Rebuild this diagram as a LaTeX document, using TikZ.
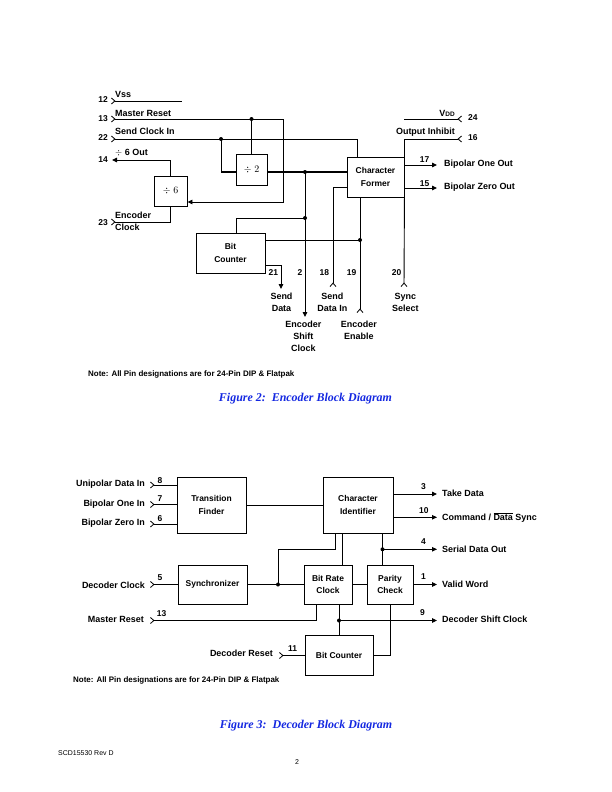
\documentclass[tikz,border=0pt]{standalone}
\usepackage{fontspec}
\setmainfont{Liberation Sans}
\newfontfamily\capfont{Liberation Serif}
\usetikzlibrary{arrows.meta,positioning,calc}
\definecolor{capblue}{RGB}{20,40,225}
\newcommand{\lblfont}{\fontsize{9}{12}\selectfont\bfseries}
\newcommand{\boxfont}{\fontsize{8.5}{12.5}\selectfont\bfseries}
\newcommand{\pinfont}{\fontsize{8.5}{10}\selectfont\bfseries}

\tikzset{
  blk/.style={draw, line width=0.9bp, inner sep=0pt, align=center, font=\boxfont},
  wire/.style={line width=0.9bp},
  bus/.style={line width=2.2bp},
  jdot/.style={circle, fill, inner sep=0pt, minimum size=4bp},
  lbl/.style={inner sep=0pt, font=\lblfont},
  pinno/.style={inner sep=0pt, font=\pinfont},
  chev/.style={{Straight Barb[reversed,length=3.5bp,width=6bp,line width=0.8bp]}-},
  chevend/.style={-{Straight Barb[reversed,length=3.5bp,width=6bp,line width=0.8bp]}},
  outarr/.style={-{Triangle[length=5bp,width=4.5bp]}},
  chevarr/.style={{Straight Barb[reversed,length=3.5bp,width=6bp,line width=0.8bp]}-{Triangle[length=5bp,width=4.5bp]}},
}

\begin{document}
\begin{tikzpicture}[x=1bp,y=-1bp]
  \useasboundingbox (0,0) rectangle (612,792);

  % ---------- Figure 2: encoder ----------
  \node[blk, minimum width=31bp, minimum height=31bp, font=\fontsize{10}{12}\selectfont] (div2) at (251.5,169.5) {$\div\;2$};
  \node[blk, minimum width=33bp, minimum height=30bp, font=\fontsize{10}{12}\selectfont] (div6) at (170.5,191) {$\div\;6$};
  \node[blk, minimum width=57bp, minimum height=40bp] (cf) at (375.5,177) {Character\\Former};
  \node[blk, minimum width=69bp, minimum height=40bp] (bc) at (230.5,253) {Bit\\Counter};

  % left side pins
  \coordinate (p12) at (111,101);
  \coordinate (p12e) at (182,101);
  \draw[wire,chev] (p12) -- (p12e);
  \node[pinno, anchor=east] (n12) at (108,100) {12};
  \node[lbl, anchor=west] (t12) at (115,94) {Vss};

  \coordinate (p13) at (111,119);
  \coordinate (mrTurn) at (283,119);
  \coordinate (mrDown) at (283,202);
  \draw[wire,chevarr] (p13) -- (mrTurn) -- (mrDown) -- (div6.east |- mrDown);
  \node[jdot] (mrJ) at (251.5,119) {};
  \draw[wire] (mrJ.center) -- (div2.north);
  \node[pinno, anchor=east] (n13) at (108,118.5) {13};
  \node[lbl, anchor=west] (t13) at (115,113) {Master Reset};

  \coordinate (p22) at (111,139);
  \coordinate (scTurn) at (357,139);
  \draw[wire,chev] (p22) -- (scTurn) -- (scTurn |- cf.north);
  \node[jdot] (scJ) at (221,139) {};
  \coordinate (busL) at (221,172);
  \draw[wire] (scJ.center) -- (busL);
  \draw[bus] (busL) -- (div2.west |- busL);
  \draw[bus] (div2.east |- busL) -- (cf.west |- busL);
  \node[pinno, anchor=east] (n22) at (108,138) {22};
  \node[lbl, anchor=west] (t22) at (115,131.5) {Send Clock In};

  \coordinate (p14) at (112,160);
  \coordinate (d6Up) at (170.5,160);
  \draw[wire,outarr] (div6.north) -- (d6Up) -- (p14);
  \node[pinno, anchor=east] (n14) at (108,160) {14};
  \node[lbl, anchor=west] (t14) at (115,153) {$\div$ 6 Out};

  \coordinate (p23) at (111,222);
  \draw[wire,chev] (p23) -- (p23 -| div6.south) -- (div6.south);
  \node[pinno, anchor=east] (n23) at (108,222.5) {23};
  \node[lbl, anchor=west, align=left] (t23) at (115,221.7) {Encoder\\Clock};

  % shift clock and bit counter
  \node[jdot] (busJ) at (305,172) {};
  \node[jdot] (bcJ) at (305,218) {};
  \coordinate (p2) at (305,317);
  \draw[wire,outarr] (busJ.center) -- (p2);
  \coordinate (bcTop) at (236,218);
  \draw[wire] (bcJ.center) -- (bcTop) -- (bcTop |- bc.north);

  \node[jdot] (enJ) at (360,240) {};
  \draw[wire] (bc.east |- enJ) -- (enJ.center);
  \coordinate (p19) at (360,313);
  \draw[wire,chevend] (cf.south -| enJ) -- (p19);

  \coordinate (sdTurn) at (281,265);
  \coordinate (p21) at (281,289);
  \draw[wire,outarr] (bc.east |- sdTurn) -- (sdTurn) -- (p21);

  \coordinate (sdiTurn) at (333,187);
  \coordinate (p18) at (333,287);
  \draw[wire,chevend] (cf.west |- sdiTurn) -- (sdiTurn) -- (p18);

  \coordinate (p20) at (404,287);
  \draw[wire,chevend] (cf.south east) -- (p20);

  % right side pins
  \coordinate (p16) at (462,139);
  \draw[wire,chevend] (cf.north east) -- (cf.north east |- p16) -- (p16);
  \node[pinno, anchor=west] (n16) at (468,138) {16};
  \node[lbl, anchor=east] (t16) at (455,132) {Output Inhibit};

  \coordinate (vddL) at (404,119);
  \coordinate (p24) at (462,119);
  \draw[wire,chevend] (vddL) -- (p24);
  \node[pinno, anchor=west] (n24) at (468,118) {24};
  \node[lbl, anchor=east] (t24) at (455,113) {V{\fontsize{6.5}{7}\selectfont DD}};

  \coordinate (p17) at (437,165);
  \draw[wire,outarr] (cf.east |- p17) -- (p17);
  \node[pinno] (n17) at (424.5,159.7) {17};
  \node[lbl, anchor=west] (t17) at (444,164.3) {Bipolar One Out};

  \coordinate (p15) at (437,188);
  \draw[wire,outarr] (cf.east |- p15) -- (p15);
  \node[pinno] (n15) at (424.5,184) {15};
  \node[lbl, anchor=west] (t15) at (444,187.5) {Bipolar Zero Out};

  % bottom pins
  \node[pinno] (n21) at (273.3,273) {21};
  \node[pinno] (n2) at (300,273) {2};
  \node[pinno] (n18) at (324.3,273) {18};
  \node[pinno] (n19) at (351.7,273) {19};
  \node[pinno] (n20) at (396.7,273) {20};
  \node[lbl, align=center] (t21) at (281.5,302.5) {Send\\Data};
  \node[lbl, align=center] (t2) at (303.3,336.3) {Encoder\\Shift\\Clock};
  \node[lbl, align=center] (t18) at (332.3,302.5) {Send\\Data In};
  \node[lbl, align=center] (t19) at (358.8,330.3) {Encoder\\Enable};
  \node[lbl, align=center] (t20) at (405.3,302.5) {Sync\\Select};

  \node[inner sep=0pt, anchor=west, font=\fontsize{8}{10}\selectfont\bfseries] (note2) at (88,374)
    {Note: All Pin designations are for 24-Pin DIP \& Flatpak};
  \node[inner sep=0pt, text=capblue, font=\capfont\fontsize{12}{14}\selectfont\bfseries\itshape] (cap2) at (305.5,399)
    {Figure 2:\ \ Encoder Block Diagram};

  % ---------- Figure 3: decoder ----------
  \node[blk, minimum width=69bp, minimum height=56bp] (tf) at (211.5,505) {Transition\\Finder};
  \node[blk, minimum width=70bp, minimum height=56bp] (ci) at (358,505) {Character\\Identifier};
  \node[blk, minimum width=69bp, minimum height=39bp] (sy) at (212.5,584.5) {Synchronizer};
  \node[blk, minimum width=48bp, minimum height=39bp] (brc) at (328,584.5) {Bit Rate\\Clock};
  \node[blk, minimum width=46bp, minimum height=39bp] (pc) at (390,584.5) {Parity\\Check};
  \node[blk, minimum width=68bp, minimum height=40bp] (bcd) at (339,655.5) {Bit Counter};

  \draw[wire] (tf.east) -- (ci.west);

  % inputs
  \coordinate (p8) at (150,485);
  \draw[wire,chev] (p8) -- (p8 -| tf.west);
  \node[lbl, anchor=east] (t8) at (145,484.5) {Unipolar Data In};
  \node[pinno] (n8) at (160,480.5) {8};
  \coordinate (p7) at (150,504.5);
  \draw[wire,chev] (p7) -- (p7 -| tf.west);
  \node[lbl, anchor=east] (t7) at (145,504.5) {Bipolar One In};
  \node[pinno] (n7) at (160,499) {7};
  \coordinate (p6) at (150,524);
  \draw[wire,chev] (p6) -- (p6 -| tf.west);
  \node[lbl, anchor=east] (t6) at (145,523.5) {Bipolar Zero In};
  \node[pinno] (n6) at (160,518.5) {6};

  \coordinate (p5) at (150,584.5);
  \draw[wire,chev] (p5) -- (sy.west);
  \node[lbl, anchor=east] (t5) at (145,585) {Decoder Clock};
  \node[pinno] (n5) at (160,577.5) {5};

  \draw[wire] (sy.east) -- (brc.west);
  \node[jdot] (syJ) at (278,584.5) {};
  \coordinate (syUp) at (278,549.3);
  \coordinate (syR) at (335,549.3);
  \draw[wire] (syJ.center) -- (syUp) -- (syR) -- (syR |- ci.south);
  \coordinate (brcUp) at (342,549.3);
  \draw[wire] (brcUp |- brc.north) -- (brcUp |- ci.south);

  \node[jdot] (pcJ) at (382.5,549.3) {};
  \draw[wire] (ci.south -| pcJ) -- (pc.north -| pcJ);
  \draw[wire] (brc.east) -- (pc.west);

  % outputs
  \coordinate (p3) at (437,494);
  \draw[wire,outarr] (ci.east |- p3) -- (p3);
  \node[pinno] (n3) at (423.5,486.7) {3};
  \node[lbl, anchor=west] (t3) at (442,493.7) {Take Data};
  \coordinate (p10) at (437,517.3);
  \draw[wire,outarr] (ci.east |- p10) -- (p10);
  \node[pinno] (n10) at (423.8,510.5) {10};
  \node[lbl, anchor=west] (t10) at (442,517.5) {Command / $\overline{\hbox{Data}}$ Sync};
  \coordinate (p4) at (437,549.3);
  \draw[wire,outarr] (pcJ.center) -- (p4);
  \node[pinno] (n4) at (423.5,541.5) {4};
  \node[lbl, anchor=west] (t4) at (442,549) {Serial Data Out};
  \coordinate (p1) at (437,584.5);
  \draw[wire,outarr] (pc.east) -- (p1);
  \node[pinno] (n1) at (423.5,576.7) {1};
  \node[lbl, anchor=west] (t1) at (442,584) {Valid Word};

  % resets and shift clock
  \coordinate (p13b) at (150,620.5);
  \coordinate (mrbTurn) at (316,620.5);
  \draw[wire,chev] (p13b) -- (mrbTurn) -- (mrbTurn |- brc.south);
  \node[lbl, anchor=east] (t13b) at (144,619.7) {Master Reset};
  \node[pinno] (n13b) at (161.5,613.7) {13};

  \node[jdot] (dscJ) at (339,620.5) {};
  \draw[wire] (brc.south -| dscJ) -- (bcd.north);
  \coordinate (p9) at (437,620.5);
  \draw[wire,outarr] (dscJ.center) -- (p9);
  \node[pinno] (n9) at (422.5,612.5) {9};
  \node[lbl, anchor=west] (t9) at (442,619) {Decoder Shift Clock};

  \coordinate (pcDown) at (390,655.5);
  \draw[wire] (pc.south) -- (pcDown) -- (bcd.east);

  \coordinate (p11) at (279,655.5);
  \draw[wire,chev] (p11) -- (bcd.west);
  \node[lbl, anchor=east] (t11) at (273,653.7) {Decoder Reset};
  \node[pinno] (n11) at (292.5,648.8) {11};

  \node[inner sep=0pt, anchor=west, font=\fontsize{8}{10}\selectfont\bfseries] (note3) at (73,680)
    {Note: All Pin designations are for 24-Pin DIP \& Flatpak};
  \node[inner sep=0pt, text=capblue, font=\capfont\fontsize{12}{14}\selectfont\bfseries\itshape] (cap3) at (306,726)
    {Figure 3:\ \ Decoder Block Diagram};

  % page footer
  \node[inner sep=0pt, anchor=west, font=\fontsize{7}{8}\selectfont] (foot) at (58,753.3) {SCD15530 Rev D};
  \node[inner sep=0pt, font=\fontsize{7}{8}\selectfont] (pageno) at (297,762.5) {2};
\end{tikzpicture}
\end{document}
